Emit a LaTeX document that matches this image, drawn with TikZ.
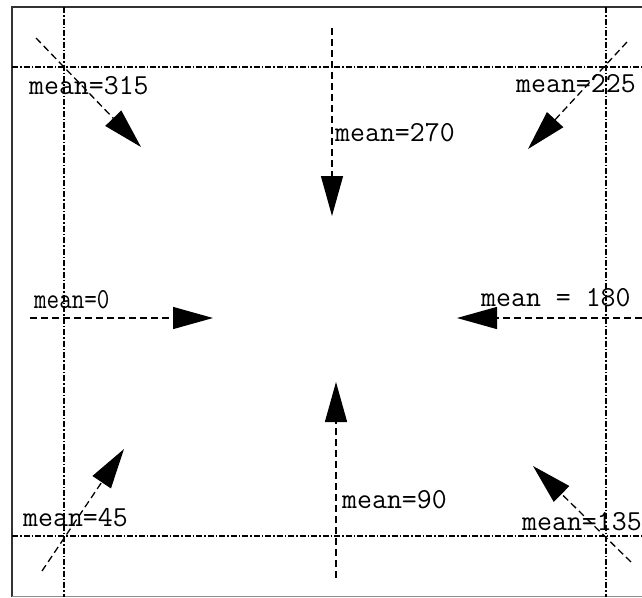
\documentclass[tikz,border=0pt]{standalone}
\usepackage{fontspec}
\usetikzlibrary{arrows.meta}
\begin{document}
\begin{tikzpicture}[x=1pt,y=-1pt,
  guide/.style={line width=1.1pt,dash pattern=on 6pt off 2pt on 1.5pt off 2pt},
  meanarrow/.style={line width=1.3pt,dash pattern=on 7pt off 4pt,-{Triangle[length=40pt,width=22pt]}},
  lbl/.style={font=\ttfamily\fontsize{29}{29}\selectfont,inner sep=0pt,text=black}]
\useasboundingbox (0,0) rectangle (642,597);
\fill[white] (0,0) rectangle (642,597);
% frame
\draw[line width=1.8pt,black!80] (642,7) -- (12,7) -- (12,597);
\draw[line width=1pt,black!45] (12,596) -- (642,596);
% guide lines
\coordinate (gl1) at (64,7); \coordinate (gl2) at (64,597);
\coordinate (gr1) at (606,7); \coordinate (gr2) at (606,597);
\coordinate (gt1) at (12,67); \coordinate (gt2) at (642,67);
\coordinate (gb1) at (12,536); \coordinate (gb2) at (642,536);
\draw[guide] (gl1) -- (gl2);
\draw[guide] (gr1) -- (gr2);
\draw[guide] (gt1) -- (gt2);
\draw[guide] (gb1) -- (gb2);
% arrows
\coordinate (s315) at (36,38);  \coordinate (e315) at (141,147);
\coordinate (s225) at (627,42); \coordinate (e225) at (528,149);
\coordinate (s270) at (332,28); \coordinate (e270) at (332,216);
\coordinate (s0)   at (30,318); \coordinate (e0)   at (213,318);
\coordinate (s180) at (642,318);\coordinate (e180) at (457,318);
\coordinate (s90)  at (336,578);\coordinate (e90)  at (336,382);
\coordinate (s45)  at (42,571); \coordinate (e45)  at (124,449);
\coordinate (s135) at (631,562);\coordinate (e135) at (533,466);
\foreach \a in {315,225,270,0,180,90,45,135}{\draw[meanarrow] (s\a) -- (e\a);}
% labels
\node[lbl,anchor=west] (l315) at (29,86) {mean=315};
\node[lbl,anchor=west] (l225) at (516,84) {mean=225};
\node[lbl,anchor=west] (l270) at (335,133) {mean=270};
\node[lbl,anchor=west] (l0) at (34,300) {\scalebox{0.84}[1]{mean=0}};
\node[lbl,anchor=west] (l180) at (481,298) {mean = 180};
\node[lbl,anchor=west] (l45) at (23,518) {mean=45};
\node[lbl,anchor=west] (l90) at (342,500) {mean=90};
\node[lbl,anchor=west] (l135) at (522,522) {mean=135};
\end{tikzpicture}
\end{document}
